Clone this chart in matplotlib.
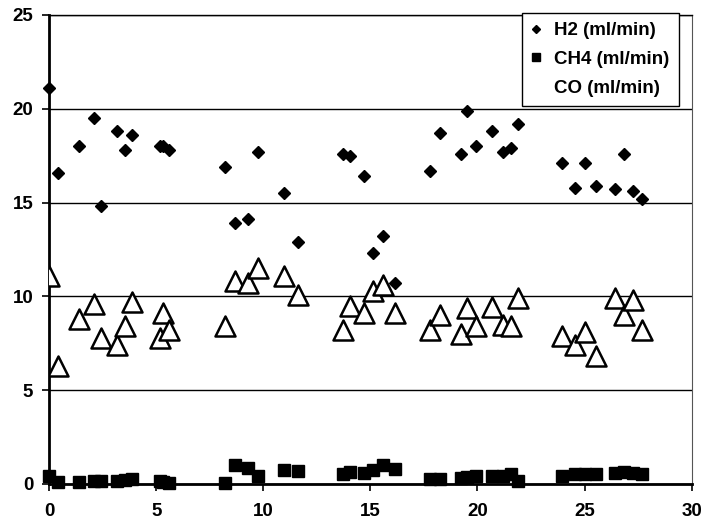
import matplotlib
matplotlib.use('Agg')
import matplotlib.pyplot as plt
from matplotlib.markers import MarkerStyle

plt.rcParams['font.family'] = ['Liberation Sans', 'DejaVu Sans']

# sample time (shared by all three series)
t = [0, 0.4, 1.4, 2.07, 2.4, 3.15, 3.55, 3.87, 5.15, 5.32, 5.6,
     8.2, 8.67, 9.3, 9.75, 10.95, 11.63, 13.7, 14.06, 14.7, 15.14,
     15.6, 16.14, 17.8, 18.25, 19.23, 19.5, 19.95, 20.7, 21.17, 21.55,
     21.9, 23.95, 24.57, 25.0, 25.52, 26.43, 26.83, 27.28, 27.66]

h2 = [21.1, 16.6, 18.0, 19.5, 14.8, 18.8, 17.8, 18.6, 18.0, 18.0, 17.8,
      16.9, 13.9, 14.1, 17.7, 15.5, 12.9, 17.6, 17.5, 16.4, 12.3,
      13.2, 10.7, 16.7, 18.7, 17.6, 19.9, 18.0, 18.8, 17.7, 17.9,
      19.2, 17.1, 15.8, 17.1, 15.9, 15.7, 17.6, 15.6, 15.2]

ch4 = [0.4, 0.1, 0.12, 0.15, 0.15, 0.18, 0.2, 0.25, 0.18, 0.1, 0.07,
       0.07, 1.0, 0.85, 0.45, 0.75, 0.7, 0.55, 0.65, 0.6, 0.75,
       1.0, 0.8, 0.25, 0.25, 0.3, 0.35, 0.4, 0.45, 0.45, 0.55,
       0.15, 0.4, 0.55, 0.55, 0.55, 0.6, 0.65, 0.6, 0.55]

co = [11.1, 6.3, 8.8, 9.6, 7.8, 7.4, 8.4, 9.7, 7.8, 9.1, 8.2,
      8.4, 10.8, 10.7, 11.5, 11.1, 10.1, 8.2, 9.5, 9.1, 10.3,
      10.6, 9.1, 8.2, 9.0, 8.0, 9.4, 8.4, 9.45, 8.5, 8.4,
      9.9, 7.9, 7.4, 8.1, 6.8, 9.9, 9.0, 9.8, 8.2]

labels = ['H2 (ml/min)', 'CH4 (ml/min)', 'CO (ml/min)']

fig = plt.figure(figsize=(7.13, 5.22), dpi=100)
ax = fig.add_axes([0.0691, 0.0728, 0.9009, 0.8985])

ax.plot(t, h2, linestyle='none', marker='D', markersize=6.3,
        color='black', label=labels[0], clip_on=False, zorder=3)
ax.plot(t, ch4, linestyle='none', marker='s', markersize=9,
        color='black', label=labels[1], clip_on=False, zorder=3)
tri = MarkerStyle('^', joinstyle='round')
ax.plot(t, co, linestyle='none', marker=tri, markersize=14,
        markerfacecolor='white', markeredgecolor='black',
        markeredgewidth=1.8, label=labels[2], zorder=4)

ax.set_xlim(0, 30)
ax.set_ylim(0, 25)
ax.set_xticks(range(0, 31, 5))
ax.set_yticks(range(0, 26, 5))

# horizontal gridlines like the Excel chart
ax.yaxis.grid(True, color='black', linewidth=1.0)
ax.set_axisbelow(True)

ax.spines['left'].set_linewidth(2)
ax.spines['bottom'].set_linewidth(2)
ax.spines['top'].set_linewidth(1.0)
ax.spines['right'].set_linewidth(0.8)
ax.spines['right'].set_color('#555555')

ax.tick_params(axis='both', direction='out', length=5, width=1.2,
               labelsize=13.5, colors='black')
ax.tick_params(axis='x', pad=9)
ax.tick_params(axis='y', pad=6.5)
for lab in ax.get_xticklabels() + ax.get_yticklabels():
    lab.set_fontweight('bold')

leg = ax.legend(loc='upper right', bbox_to_anchor=(0.98, 1.005),
                borderaxespad=0, prop={'size': 13.5, 'weight': 'bold'},
                frameon=True, fancybox=False,
                edgecolor='black', framealpha=1, handlelength=0.5,
                handletextpad=0.7, labelspacing=0.62, borderpad=0.5,
                markerscale=0.7)
leg.get_frame().set_linewidth(1.0)
# CO marker is not shown in the original legend
leg.legend_handles[2].set_visible(False)

fig.savefig('out.png', dpi=100)
